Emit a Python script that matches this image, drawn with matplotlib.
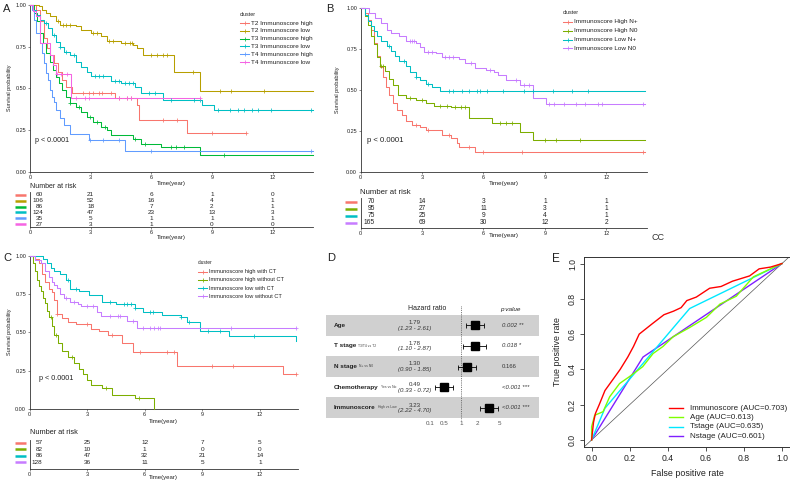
import numpy as np
import matplotlib
matplotlib.use("Agg")
import matplotlib.pyplot as plt
from matplotlib.transforms import offset_copy, blended_transform_factory

plt.rcParams['font.family'] = ['Liberation Sans', 'DejaVu Sans']

# ---------------- DATA ----------------
time_ticks = [0, 3, 6, 9, 12]

# Panel A
a_groups = ["T2 Immunoscore high", "T2 Immunoscore low", "T3 Immunoscore high",
            "T3 Immunoscore low", "T4 Immunoscore high", "T4 Immunoscore low"]
a_t2h_t = [0, 0.3, 0.5, 0.7, 0.85, 1.0, 1.2, 1.4, 1.6, 1.8, 2.1, 4.2, 5.3, 5.4, 7.75]
a_t2h_s = [1, 0.97, 0.9, 0.8, 0.74, 0.70, 0.65, 0.60, 0.55, 0.51, 0.475, 0.445, 0.40, 0.31, 0.235]
a_t2h_end = 10.7
a_t2h_c = [2.6, 2.9, 3.1, 3.4, 3.55, 4.0, 4.4, 4.8, 5.0, 6.6, 7.25, 9.0, 10.7]

a_t2l_t = [0, 0.45, 0.6, 0.8, 1.0, 1.3, 1.5, 2.3, 2.5, 3.0, 3.5, 3.8, 4.5, 5.1, 5.3, 5.6, 7.1, 8.4]
a_t2l_s = [1, 0.99, 0.97, 0.95, 0.93, 0.90, 0.88, 0.87, 0.85, 0.83, 0.81, 0.785, 0.77, 0.76, 0.74, 0.70, 0.60, 0.484]
a_t2l_end = 14
a_t2l_c = [1.4, 1.65, 1.8, 2.0, 3.1, 3.3, 3.9, 4.1, 4.7, 4.95, 5.05, 6.0, 6.3, 6.6, 6.8, 8.05, 9.4, 9.95, 11.6]

a_t3h_t = [0, 0.2, 0.35, 0.5, 0.65, 0.8, 1.0, 1.15, 1.3, 1.45, 1.6, 1.8, 2.0, 2.3, 2.5, 2.8, 3.1, 3.5, 3.8, 4.0, 5.1, 5.5, 6.5, 8.4]
a_t3h_s = [1, 0.95, 0.9, 0.83, 0.77, 0.71, 0.66, 0.61, 0.57, 0.53, 0.49, 0.45, 0.41, 0.39, 0.36, 0.33, 0.30, 0.27, 0.25, 0.22, 0.20, 0.17, 0.15, 0.10]
a_t3h_end = 14
a_t3h_c = [2.0, 2.4, 2.95, 3.3, 3.7, 5.2, 5.7, 7.0, 7.2, 7.6, 9.6]

a_t3l_t = [0, 0.15, 0.3, 0.5, 0.7, 0.9, 1.1, 1.3, 1.5, 1.7, 2.0, 2.3, 2.5, 2.8, 3.0, 4.0, 4.5, 5.2, 5.5, 6.6, 8.5, 9.1]
a_t3l_s = [1, 0.97, 0.94, 0.91, 0.89, 0.86, 0.82, 0.78, 0.75, 0.72, 0.70, 0.66, 0.63, 0.60, 0.575, 0.545, 0.53, 0.51, 0.475, 0.43, 0.40, 0.37]
a_t3l_end = 14
a_t3l_c = [0.8, 1.2, 1.5, 1.8, 2.2, 3.2, 3.4, 3.6, 4.2, 4.4, 4.7, 4.9, 5.1, 5.9, 6.2, 7.0, 8.1, 8.4,
           9.3, 9.9, 10.3, 10.6, 11.0, 11.3, 11.9, 13.9]

a_t4h_t = [0, 0.1, 0.2, 0.3, 0.5, 0.6, 0.7, 0.8, 0.9, 1.0, 1.1, 1.2, 1.3, 1.5, 1.7, 2.0, 2.9, 4.7]
a_t4h_s = [1, 0.97, 0.91, 0.83, 0.77, 0.71, 0.65, 0.59, 0.55, 0.49, 0.45, 0.42, 0.37, 0.32, 0.28, 0.23, 0.19, 0.125]
a_t4h_end = 14
a_t4h_c = [2.95, 3.6, 4.4, 6.0, 13.9]

a_t4l_t = [0, 0.15, 0.3, 0.5, 1.0, 1.15, 1.3, 2.05]
a_t4l_s = [1, 0.96, 0.93, 0.77, 0.70, 0.64, 0.585, 0.44]
a_t4l_end = 8.4
a_t4l_c = [1.35, 1.55, 1.85, 2.3, 2.7, 2.9, 4.4, 4.8, 5.0, 8.4]

a_risk = [[60, 21, 6, 1, 0], [106, 52, 16, 4, 1], [86, 18, 7, 2, 1],
          [124, 47, 23, 13, 3], [35, 5, 1, 1, 1], [27, 3, 1, 0, 0]]

# Panel B
b_groups = ["Immunoscore High N+", "Immunoscore High N0", "Immunoscore Low N+", "Immunoscore Low N0"]
b_hn_t = [0, 0.2, 0.35, 0.5, 0.65, 0.8, 0.95, 1.1, 1.25, 1.4, 1.6, 1.8, 2.0, 2.2, 2.5, 2.9, 3.2, 4.0, 4.4, 4.7, 4.8, 5.6]
b_hn_s = [1, 0.97, 0.93, 0.87, 0.79, 0.71, 0.64, 0.58, 0.52, 0.47, 0.42, 0.38, 0.35, 0.31, 0.29, 0.277, 0.257, 0.226, 0.205, 0.18, 0.155, 0.124]
b_hn_end = 13.9
b_hn_c = [2.7, 3.3, 4.3, 5.3, 6.0, 7.9, 13.8]

b_h0_t = [0, 0.2, 0.35, 0.5, 0.65, 0.8, 0.95, 1.2, 1.4, 1.6, 1.85, 2.2, 2.7, 3.2, 3.6, 4.4, 5.3, 6.4, 7.8, 8.4]
b_h0_s = [1, 0.95, 0.9, 0.83, 0.78, 0.70, 0.645, 0.62, 0.57, 0.53, 0.47, 0.45, 0.44, 0.42, 0.405, 0.395, 0.33, 0.297, 0.246, 0.195]
b_h0_end = 13.9
b_h0_c = [1.0, 1.1, 2.4, 3.0, 3.9, 4.2, 4.6, 4.9, 5.1, 6.8, 7.1, 7.4, 9.0, 9.55, 10.7]

b_ln_t = [0, 0.2, 0.35, 0.5, 0.65, 0.8, 1.0, 1.3, 1.5, 1.7, 1.9, 2.2, 2.4, 2.7, 2.9, 3.2, 3.5, 3.9]
b_ln_s = [1, 0.96, 0.92, 0.89, 0.86, 0.83, 0.80, 0.77, 0.74, 0.71, 0.68, 0.645, 0.61, 0.58, 0.56, 0.54, 0.52, 0.495]
b_ln_end = 13.9
b_ln_c = [1.4, 2.1, 2.7, 3.3, 4.3, 4.5, 4.95, 5.27, 5.67, 5.83, 6.15, 6.97, 8.0, 8.4, 9.37, 10.3, 11.1]

b_l0_t = [0, 0.4, 0.7, 1.0, 1.3, 1.5, 1.9, 2.2, 2.7, 2.9, 3.1, 3.7, 4.0, 4.8, 5.1, 5.6, 6.1, 6.5, 6.7, 7.1, 7.8, 8.4, 9.05]
b_l0_s = [1, 0.97, 0.94, 0.91, 0.87, 0.85, 0.83, 0.80, 0.785, 0.765, 0.735, 0.725, 0.705, 0.69, 0.664, 0.633, 0.623, 0.61, 0.59, 0.56, 0.53, 0.454, 0.415]
b_l0_end = 13.9
b_l0_c = [2.4, 2.5, 2.6, 3.3, 3.5, 4.1, 4.3, 4.5, 5.4, 6.3, 7.6, 8.0, 8.2, 9.2, 9.45, 9.94, 10.5,
          10.95, 11.6, 11.8, 13.8]

b_risk = [[70, 14, 3, 1, 1], [95, 27, 11, 3, 1], [75, 25, 9, 4, 1], [165, 69, 30, 12, 2]]

# Panel C
c_groups = ["Immunoscore high with CT", "Immunoscore high without CT",
            "Immunoscore low with CT", "Immunoscore low without CT"]
c_hw_t = [0, 0.3, 0.5, 0.65, 0.8, 1.0, 1.15, 1.3, 1.45, 1.7, 2.0, 2.4, 3.2, 3.6, 4.1, 4.8, 5.4, 7.7, 13.2]
c_hw_s = [1, 0.98, 0.95, 0.88, 0.83, 0.78, 0.76, 0.71, 0.62, 0.59, 0.57, 0.555, 0.52, 0.505, 0.48, 0.43, 0.37, 0.282, 0.225]
c_hw_end = 13.9
c_hw_c = [1.45, 3.0, 4.3, 5.75, 7.15, 7.5, 9.5, 10.6, 13.9]

c_ho_t = [0, 0.2, 0.3, 0.4, 0.5, 0.6, 0.7, 0.8, 0.9, 1.0, 1.15, 1.3, 1.5, 1.7, 2.0, 2.3, 2.6, 2.8, 3.0, 3.2, 3.8, 4.3, 5.5, 6.5]
c_ho_s = [1, 0.95, 0.90, 0.84, 0.80, 0.77, 0.72, 0.69, 0.64, 0.60, 0.54, 0.48, 0.43, 0.38, 0.34, 0.30, 0.26, 0.23, 0.19, 0.155, 0.135, 0.092, 0.07, 0.0]
c_ho_end = 6.5
c_ho_c = [1.1, 1.4, 2.2, 4.0, 5.7]

c_lw_t = [0, 0.7, 0.9, 1.1, 1.3, 1.6, 1.9, 2.1, 2.6, 3.1, 3.8, 4.5, 5.5, 5.9, 6.9, 7.9, 8.2, 8.9, 10.4, 13.9]
c_lw_s = [1, 0.98, 0.95, 0.92, 0.9, 0.88, 0.84, 0.785, 0.77, 0.74, 0.70, 0.685, 0.66, 0.635, 0.61, 0.60, 0.57, 0.505, 0.476, 0.44]
c_lw_end = 13.9
c_lw_c = [2.0, 2.4, 4.2, 4.9, 5.1, 5.3, 5.5, 6.3, 6.45, 7.9, 8.3, 9.3, 9.9, 11.7]

c_lo_t = [0, 0.3, 0.6, 0.8, 1.0, 1.15, 1.3, 1.45, 1.6, 1.8, 2.1, 2.5, 2.7, 3.5, 3.7, 5.1, 5.6]
c_lo_s = [1, 0.97, 0.95, 0.9, 0.86, 0.83, 0.81, 0.79, 0.75, 0.72, 0.70, 0.686, 0.67, 0.634, 0.606, 0.575, 0.53]
c_lo_end = 13.9
c_lo_c = [1.9, 2.3, 3.0, 3.3, 4.2, 4.6, 4.7, 5.4, 5.9, 6.3, 6.5, 6.7, 6.8, 10.5, 13.9]

c_risk = [[57, 25, 12, 7, 5], [82, 10, 1, 0, 0], [86, 47, 32, 21, 14], [128, 36, 11, 5, 1]]

# Panel D (forest)
d_vars = ["Age", "T stage", "N stage", "Chemotherapy", "Immunoscore"]
d_subs = ["", "T3/T4 vs T2", "N+ vs N0", "Yes vs No", "High vs Low"]
d_hr = [1.79, 1.78, 1.30, 0.49, 3.23]
d_lo = [1.23, 1.10, 0.90, 0.33, 2.22]
d_hi = [2.61, 2.87, 1.85, 0.72, 4.70]
d_p = ["0.002 **", "0.018 *", "0.166", "<0.001 ***", "<0.001 ***"]
d_tick_labels = ["0.1", "0.5", "1", "2", "5"]

# Panel E (ROC)
e_labels = ["Immunoscore (AUC=0.703)", "Age (AUC=0.613)", "Tstage (AUC=0.635)", "Nstage (AUC=0.601)"]
e_imm_fpr = [0, 0.01, 0.02, 0.04, 0.07, 0.11, 0.15, 0.19, 0.22, 0.25, 0.32, 0.38, 0.43, 0.47, 0.50, 0.55, 0.62, 0.68, 0.74, 0.83, 0.88, 0.94, 1.0]
e_imm_tpr = [0, 0.10, 0.15, 0.20, 0.28, 0.34, 0.40, 0.47, 0.53, 0.60, 0.66, 0.71, 0.73, 0.75, 0.79, 0.81, 0.86, 0.87, 0.90, 0.93, 0.97, 0.98, 1.0]
e_age_fpr = [0, 0, 0.016, 0.06, 0.095, 0.147, 0.2, 0.268, 0.323, 0.375, 0.428, 0.516, 0.603, 0.674, 0.76, 0.85, 0.92, 1.0]
e_age_tpr = [0, 0.075, 0.14, 0.16, 0.245, 0.32, 0.36, 0.415, 0.49, 0.53, 0.585, 0.638, 0.695, 0.77, 0.815, 0.925, 0.96, 1.0]
e_t_fpr = [0, 0.07, 0.515, 1]
e_t_tpr = [0, 0.18, 0.745, 1]
e_n_fpr = [0, 0.27, 1]
e_n_tpr = [0, 0.47, 1]

hue6 = ["#F8766D", "#B79F00", "#00BA38", "#00BFC4", "#619CFF", "#F564E3"]
hue4 = ["#F8766D", "#7CAE00", "#00BFC4", "#C77CFF"]
roc_colors = ["#FF0000", "#7FFF00", "#00E8FF", "#7F1FFF"]

# ---------------- FIGURE ----------------
W, H = 790, 484
fig = plt.figure(figsize=(W / 100, H / 100), dpi=100)
fig.patch.set_facecolor("white")


def px_axes(l, t, r, b):
    ax = fig.add_axes([l / W, 1 - b / H, (r - l) / W, (b - t) / H])
    ax.patch.set_alpha(0)
    return ax


ov = px_axes(0, 0, W, H)
ov.set_xlim(0, W)
ov.set_ylim(H, 0)
ov.axis("off")

TXT = "#222222"
SPN = "#333333"


def style_spines(ax, lw=0.6):
    for s in ["top", "right"]:
        ax.spines[s].set_visible(False)
    for s in ["left", "bottom"]:
        ax.spines[s].set_linewidth(lw)
        ax.spines[s].set_color(SPN)


def km_axes(l, r, ytop, ybot):
    ax = px_axes(l, ytop, r, ybot)
    ax.set_xlim(0, 14)
    ax.set_ylim(0, 1)
    style_spines(ax)
    ax.set_xticks(time_ticks)
    ax.set_xticklabels([str(v) for v in time_ticks])
    ax.set_yticks([0, 0.25, 0.5, 0.75, 1.0])
    ax.set_yticklabels(["0.00", "0.25", "0.50", "0.75", "1.00"])
    ax.tick_params(labelsize=4, length=1.5, width=0.4, pad=1, colors=SPN, labelcolor=TXT)
    return ax


def km(ax, t, s, t_end, cens, color):
    tt = list(t) + [t_end]
    ss = list(s) + [s[-1]]
    ax.step(tt, ss, where="post", color=color, lw=0.75, clip_on=False, zorder=3)
    ta = np.array(t)
    cy = [s[np.searchsorted(ta, c, side="right") - 1] for c in cens]
    ax.plot(cens, cy, ls="none", marker="+", ms=2.8, mew=0.55, color=color, clip_on=False, zorder=4)


def risk_table(l, r, ytop, ybot, ymax, counts, colors, key_x0, key_x1, first_off, fs):
    ax = px_axes(l, ytop, r, ybot)
    ax.set_xlim(0, 14)
    ax.set_ylim(ymax, -0.5)
    style_spines(ax)
    ax.set_yticks([])
    ax.set_xticks(time_ticks)
    ax.set_xticklabels([str(v) for v in time_ticks])
    ax.tick_params(axis="x", labelsize=4, length=1.5, width=0.4, pad=1, colors=SPN, labelcolor=TXT)
    tr0 = offset_copy(ax.transData, fig=fig, x=first_off, y=0, units="dots")
    tr_key = blended_transform_factory(ov.transData, ax.transData)
    for i, row in enumerate(counts):
        for j, (tm, v) in enumerate(zip(time_ticks, row)):
            if j == 0:
                ax.text(tm, i, str(v), ha="right", va="center", fontsize=fs, color=TXT, transform=tr0)
            else:
                ax.text(tm, i, str(v), ha="center", va="center", fontsize=fs, color=TXT)
        ax.plot([key_x0, key_x1], [i, i], color=colors[i], lw=1.8, transform=tr_key,
                clip_on=False, solid_capstyle="butt")
    return ax


def legend(x0, ytitle, ys, labels, colors, fs):
    ov.text(x0, ytitle, "cluster", fontsize=fs * 0.85, color=TXT, va="center", ha="left")
    for y, lab, c in zip(ys, labels, colors):
        ov.plot([x0, x0 + 9], [y, y], color=c, lw=0.75)
        ov.plot([x0 + 4.5], [y], marker="+", ms=2.8, mew=0.55, color=c)
        ov.text(x0 + 11, y, lab, fontsize=fs, color=TXT, va="center", ha="left")


# ---------- Panel A ----------
axA = km_axes(30, 313, 4.7, 172)
a_series = [(a_t2h_t, a_t2h_s, a_t2h_end, a_t2h_c), (a_t2l_t, a_t2l_s, a_t2l_end, a_t2l_c),
            (a_t3h_t, a_t3h_s, a_t3h_end, a_t3h_c), (a_t3l_t, a_t3l_s, a_t3l_end, a_t3l_c),
            (a_t4h_t, a_t4h_s, a_t4h_end, a_t4h_c), (a_t4l_t, a_t4l_s, a_t4l_end, a_t4l_c)]
for (t, s, e, c), col in zip(a_series, hue6):
    km(axA, t, s, e, c, col)
risk_table(30, 313, 192, 227, 5.5, a_risk, hue6, 15, 26, 13, 4.6)
ov.text(3, 9, "A", fontsize=8, color=TXT, va="center", ha="left")
ov.text(10, 88, "Survival probability", rotation=90, fontsize=4, color=TXT, ha="center", va="center")
ov.text(171.5, 183, "Time(year)", fontsize=4.3, color=TXT, ha="center", va="center")
ov.text(171.5, 238, "Time(year)", fontsize=4.3, color=TXT, ha="center", va="center")
ov.text(35, 140, "p < 0.0001", fontsize=5.1, color=TXT, ha="left", va="center")
ov.text(30, 187, "Number at risk", fontsize=5, color=TXT, ha="left", va="center")
legend(240, 14, [23, 30.8, 38.6, 46.4, 54.2, 62], a_groups, hue6, 4.6)

# ---------- Panel B ----------
axB = km_axes(360.5, 647.5, 8.3, 172)
b_series = [(b_hn_t, b_hn_s, b_hn_end, b_hn_c), (b_h0_t, b_h0_s, b_h0_end, b_h0_c),
            (b_ln_t, b_ln_s, b_ln_end, b_ln_c), (b_l0_t, b_l0_s, b_l0_end, b_l0_c)]
for (t, s, e, c), col in zip(b_series, hue4):
    km(axB, t, s, e, c, col)
risk_table(360.5, 647.5, 198.5, 227.9, 3.7, b_risk, hue4, 345, 357, 14.5, 4.8)
ov.text(326, 9, "B", fontsize=8, color=TXT, va="center", ha="left")
ov.text(338, 90, "Survival probability", rotation=90, fontsize=4, color=TXT, ha="center", va="center")
ov.text(504, 183, "Time(year)", fontsize=4.5, color=TXT, ha="center", va="center")
ov.text(504, 236, "Time(year)", fontsize=4.5, color=TXT, ha="center", va="center")
ov.text(367, 140, "p < 0.0001", fontsize=5.6, color=TXT, ha="left", va="center")
ov.text(360, 192, "Number at risk", fontsize=5.6, color=TXT, ha="left", va="center")
legend(563, 13, [22, 30.8, 39.6, 48.4], b_groups, hue4, 4.6)
ov.text(651, 238, "CC", fontsize=6.5, color="#333333", ha="left", va="center")

# ---------- Panel C ----------
axC = km_axes(29.5, 298.3, 255.5, 409)
c_series = [(c_hw_t, c_hw_s, c_hw_end, c_hw_c), (c_ho_t, c_ho_s, c_ho_end, c_ho_c),
            (c_lw_t, c_lw_s, c_lw_end, c_lw_c), (c_lo_t, c_lo_s, c_lo_end, c_lo_c)]
for (t, s, e, c), col in zip(c_series, hue4):
    km(axC, t, s, e, c, col)
risk_table(29.5, 298.3, 439.8, 468.6, 4.0, c_risk, hue4, 15, 26, 13, 4.6)
ov.text(3, 258, "C", fontsize=8, color=TXT, va="center", ha="left")
ov.text(10, 332, "Survival probability", rotation=90, fontsize=4, color=TXT, ha="center", va="center")
ov.text(163, 421, "Time(year)", fontsize=4.3, color=TXT, ha="center", va="center")
ov.text(163, 478, "Time(year)", fontsize=4.3, color=TXT, ha="center", va="center")
ov.text(39, 379, "p < 0.0001", fontsize=5.2, color=TXT, ha="left", va="center")
ov.text(30, 432, "Number at risk", fontsize=5.3, color=TXT, ha="left", va="center")
legend(198, 263, [272, 280, 288, 296], c_groups, hue4, 4.1)

# ---------- Panel D ----------
fl, fr, ft, fb = 326, 539, 315, 418
x1px, ppd = 461, 55.0
axD = px_axes(fl, ft, fr, fb)
axD.set_xscale("log")
axD.set_xlim(10 ** ((fl - x1px) / ppd), 10 ** ((fr - x1px) / ppd))
axD.set_ylim(4.5, -0.5)
for s in axD.spines.values():
    s.set_visible(False)
for i in range(len(d_vars)):
    if i % 2 == 0:
        axD.axhspan(i - 0.5, i + 0.5, color="#D0D0D0", lw=0, zorder=0)
axD.plot([1, 1], [-0.95, 4.6], ls=(0, (1, 1.2)), color="#555555", lw=0.6, clip_on=False, zorder=1)
yrows = np.arange(len(d_vars))
axD.errorbar(d_hr, yrows, xerr=[np.array(d_hr) - np.array(d_lo), np.array(d_hi) - np.array(d_hr)],
             fmt="s", color="black", ms=6.3, ecolor="black", elinewidth=0.6, capsize=1.8,
             capthick=0.6, zorder=3)
axD.set_yticks([])
axD.xaxis.set_minor_locator(matplotlib.ticker.NullLocator())
axD.set_xticks([0.28, 0.5, 1, 2, 5])
axD.set_xticklabels(d_tick_labels)
axD.tick_params(axis="x", length=0, labelsize=4.5, pad=2, labelcolor="#555555")
trD = blended_transform_factory(axD.transAxes, axD.transData)
for i in range(len(d_vars)):
    txt = axD.text((334 - fl) / (fr - fl), i, d_vars[i], fontsize=4.6, fontweight="bold",
                   color=TXT, ha="left", va="center", transform=trD)
    if d_subs[i]:
        axD.annotate(d_subs[i], xy=(1, 0), xycoords=txt, xytext=(1.5, 0.6),
                     textcoords="offset points", fontsize=2.4, color="#444444", ha="left", va="bottom")
    axD.text((415 - fl) / (fr - fl), i - 0.13, f"{d_hr[i]:.2f}", fontsize=4.4, color="#333333",
             ha="center", va="center", transform=trD)
    axD.text((415 - fl) / (fr - fl), i + 0.15, f"({d_lo[i]:.2f} - {d_hi[i]:.2f})", fontsize=4.4,
             fontstyle="italic", color="#333333", ha="center", va="center", transform=trD)
    axD.text((502 - fl) / (fr - fl), i, d_p[i], fontsize=4.3,
             fontstyle=("normal" if d_p[i] == "0.166" else "italic"), color="#333333",
             ha="left", va="center", transform=trD)
ov.text(427, 308, "Hazard ratio", fontsize=5, color=TXT, ha="center", va="center")
ov.text(500, 309, "p value", fontsize=4.6, fontstyle="italic", color=TXT, ha="left", va="center")
ov.text(327, 258, "D", fontsize=8, color=TXT, va="center", ha="left")

# ---------- Panel E ----------
axE = px_axes(584, 256.5, 789.6, 447)
axE.set_xlim(-0.04, 1.04)
axE.set_ylim(-0.04, 1.04)
for s in axE.spines.values():
    s.set_linewidth(0.7)
    s.set_color("#333333")
axE.plot([-0.04, 1.04], [-0.04, 1.04], color="#555555", lw=0.5, zorder=1)
roc_x = [e_imm_fpr, e_age_fpr, e_t_fpr, e_n_fpr]
roc_y = [e_imm_tpr, e_age_tpr, e_t_tpr, e_n_tpr]
for k in [3, 2, 1, 0]:
    axE.plot(roc_x[k], roc_y[k], color=roc_colors[k], lw=1.0, zorder=3 + (3 - k))
eticks = [0.0, 0.2, 0.4, 0.6, 0.8, 1.0]
axE.set_xticks(eticks)
axE.set_xticklabels([f"{v:.1f}" for v in eticks])
axE.set_yticks(eticks)
axE.set_yticklabels([f"{v:.1f}" for v in eticks], rotation=90, va="center")
axE.tick_params(labelsize=6.2, length=3, width=0.6, pad=2, colors="#333333", labelcolor=TXT)
ov.text(687, 473, "False positive rate", fontsize=6.4, color=TXT, ha="center", va="center")
ov.text(557, 352, "True positive rate", fontsize=6.4, rotation=90, color=TXT, ha="center", va="center")
for y, lab, c in zip([408, 417.3, 426.6, 436], e_labels, roc_colors):
    ov.plot([669, 683], [y, y], color=c, lw=1.0)
    ov.text(690, y, lab, fontsize=5.8, color=TXT, ha="left", va="center")
ov.text(552, 259, "E", fontsize=8.5, color=TXT, va="center", ha="left")

fig.savefig("out.png", dpi=100, facecolor="white")
